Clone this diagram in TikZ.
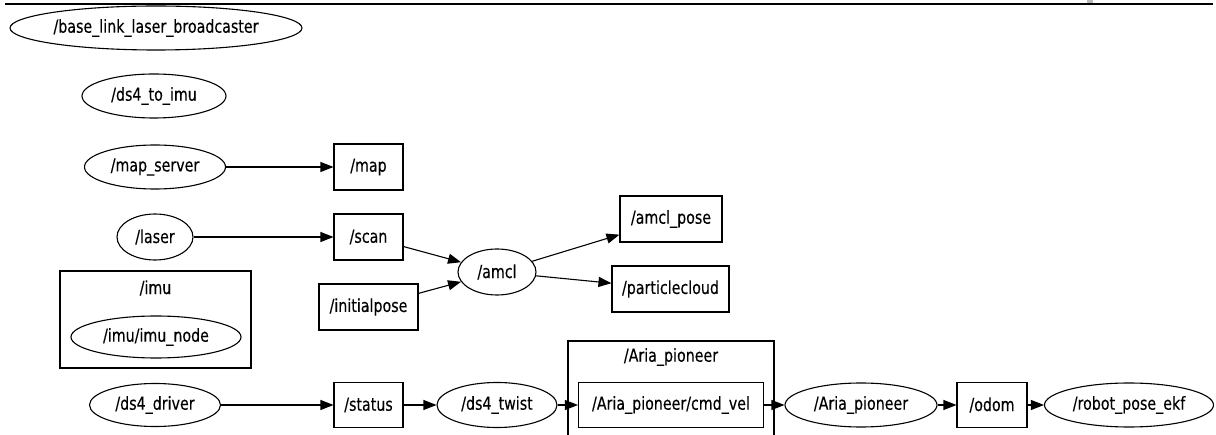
\documentclass[tikz,border=0pt]{standalone}
\usepackage{fontspec}
\setmainfont{DejaVu Sans}[FakeStretch=0.79,FakeBold=0.3]
\usetikzlibrary{shapes.geometric,arrows.meta}
\begin{document}
\begin{tikzpicture}[x=1pt,y=-1pt,
  every node/.style={font=\fontsize{18}{21}\selectfont},
  ell/.style={draw, ellipse, inner sep=0pt, line width=1.1pt},
  topic/.style={draw, rectangle, inner sep=0pt, line width=1.1pt},
  grp/.style={draw, rectangle, inner sep=0pt, line width=1.1pt},
  conn/.style={line width=1.1pt, -{Triangle[length=13pt,width=10pt]}}]
\useasboundingbox (0,0) rectangle (1216,435);
% top rule
\coordinate (tl) at (5,4);
\coordinate (tr) at (1213,4);
\draw[line width=2pt] (tl) -- (tr);
\fill[gray!55] (1087,0) rectangle (1093,3);

% clusters
\node[grp, minimum width=191, minimum height=97] (imuc) at (155.5,319.5) {};
\node (imul) at (155.5,288) {/imu};
\coordinate (a1) at (568,445);
\coordinate (a2) at (568,341);
\coordinate (a3) at (774,341);
\coordinate (a4) at (774,445);
\draw[line width=1.1pt] (a1) -- (a2) -- (a3) -- (a4);
\node (ariacl) at (671,357) {/Aria\_pioneer};

% nodes
\node[ell, minimum width=292, minimum height=44] (blb) at (156,28) {/base\_link\_laser\_broadcaster};
\node[ell, minimum width=144, minimum height=44] (dsimu) at (154,96) {/ds4\_to\_imu};
\node[ell, minimum width=141, minimum height=44] (ms) at (155,167) {/map\_server};
\node[ell, minimum width=76, minimum height=46] (laser) at (155,237) {/laser};
\node[ell, minimum width=170, minimum height=42] (imun) at (156,337) {/imu/imu\_node};
\node[ell, minimum width=131, minimum height=43] (ds4d) at (155,405) {/ds4\_driver};

\node[topic, minimum width=69, minimum height=46] (map) at (368.5,167) {/map};
\node[topic, minimum width=69, minimum height=46] (scan) at (368.5,237) {/scan};
\node[topic, minimum width=99, minimum height=46] (initp) at (368.5,307) {/initialpose};
\node[ell, minimum width=78, minimum height=46] (amcl) at (497,272) {/amcl};
\node[topic, minimum width=102, minimum height=46] (amclp) at (671,219) {/amcl\_pose};
\node[topic, minimum width=117, minimum height=46] (pc) at (670.5,289) {/particlecloud};

\node[topic, minimum width=69, minimum height=45] (status) at (368.5,405) {/status};
\node[ell, minimum width=120, minimum height=45] (twist) at (497,405) {/ds4\_twist};
\node[topic, minimum width=185, minimum height=45] (cmdvel) at (671,405) {/Aria\_pioneer/cmd\_vel};
\node[ell, minimum width=152, minimum height=44] (aria) at (861,405) {/Aria\_pioneer};
\node[topic, minimum width=70, minimum height=45] (odom) at (992,405) {/odom};
\node[ell, minimum width=169, minimum height=44] (ekf) at (1129,405) {/robot\_pose\_ekf};

% connectors
\draw[conn] (ms) -- (map);
\draw[conn] (laser) -- (scan);
\draw[conn] (scan) -- (amcl);
\draw[conn] (initp) -- (amcl);
\draw[conn] (amcl) -- (amclp);
\draw[conn] (amcl) -- (pc);
\draw[conn] (ds4d) -- (status);
\draw[conn] (status) -- (twist);
\draw[conn] (twist) -- (cmdvel);
\draw[conn] (cmdvel) -- (aria);
\draw[conn] (aria) -- (odom);
\draw[conn] (odom) -- (ekf);
\end{tikzpicture}
\end{document}
